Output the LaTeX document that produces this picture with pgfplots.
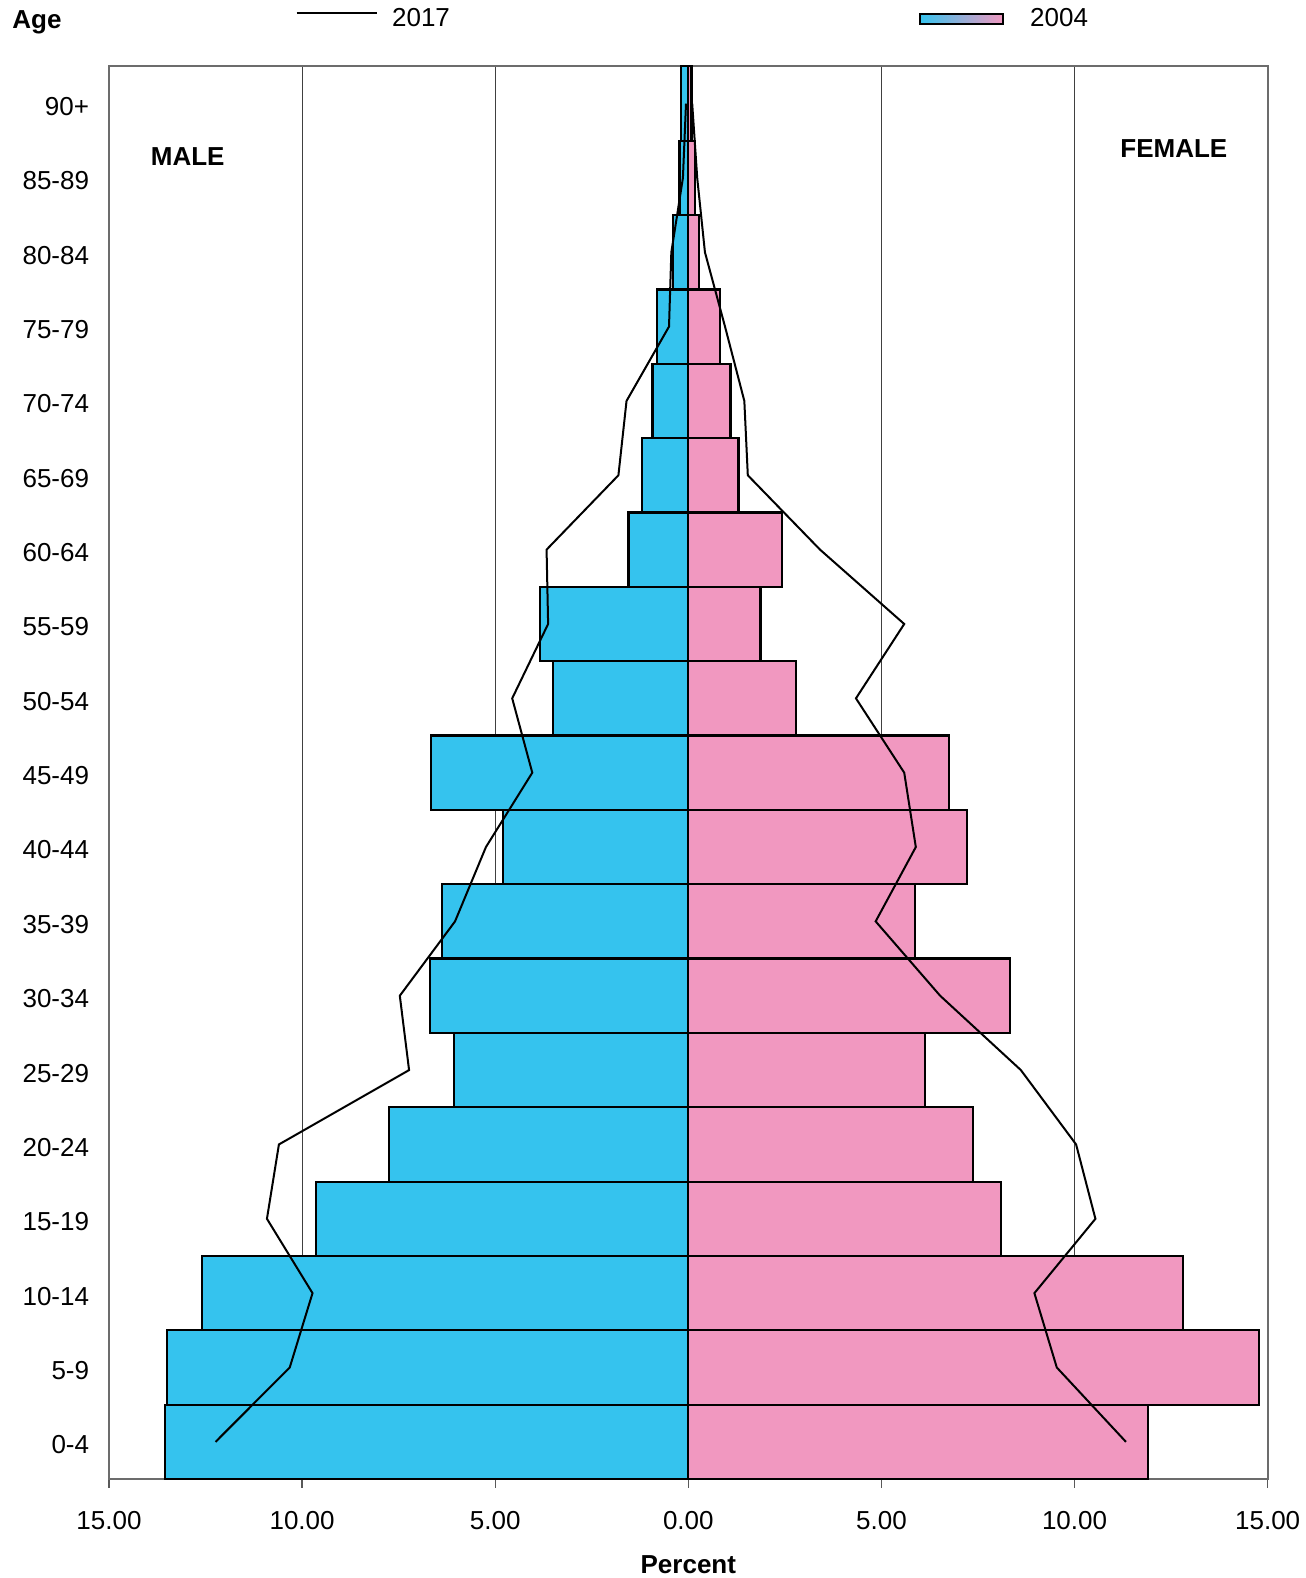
\documentclass[border=0pt]{standalone}
\usepackage{pgfplots}
\pgfplotsset{compat=1.18}
\usepackage{pgfplotstable}
\usepackage{fontspec}
\setmainfont{Liberation Sans}
\definecolor{maleblue}{RGB}{53,195,238}
\definecolor{femalepink}{RGB}{241,152,192}

% age group index, 2004 male/female bars, 2017 male/female lines (percent)
\pgfplotstableread{
age m04   f04   m17   f17
0   13.54 11.90 12.24 11.33
1   13.49 14.77 10.32 9.54
2   12.59 12.80 9.73  8.96
3   9.65  8.10  10.91 10.54
4   7.75  7.37  10.60 10.04
5   6.06  6.12  7.23  8.61
6   6.69  8.33  7.47  6.52
7   6.37  5.86  6.04  4.85
8   4.79  7.21  5.24  5.89
9   6.67  6.75  4.04  5.59
10  3.50  2.78  4.56  4.34
11  3.84  1.87  3.63  5.59
12  1.55  2.42  3.67  3.41
13  1.19  1.30  1.81  1.54
14  0.93  1.09  1.60  1.45
15  0.82  0.82  0.50  0.95
16  0.39  0.28  0.44  0.43
17  0.23  0.18  0.14  0.23
18  0.18  0.08  0.06  0.10
}\pyr

\newcommand\basefont{\fontsize{13}{15.6}\selectfont}

\begin{document}
\begin{tikzpicture}[font=\basefont]
\path[use as bounding box] (-54.5pt,-49.5pt) rectangle (598.5pt,739.7pt);
\begin{axis}[
  at={(0pt,0pt)}, anchor=south west,
  width=579.5pt, height=706.5pt, scale only axis,
  clip=false,
  xmin=-15, xmax=15, ymin=-0.5, ymax=18.5,
  xtick={-15,-10,-5,0,5,10,15},
  xticklabels={15.00,10.00,5.00,0.00,5.00,10.00,15.00},
  ytick={0,...,18},
  yticklabels={0-4,5-9,10-14,15-19,20-24,25-29,30-34,35-39,40-44,45-49,50-54,55-59,60-64,65-69,70-74,75-79,80-84,85-89,90+},
  xtick pos=left,
  tick align=center,
  major tick length=8.5pt,
  xtick style={gray!70!black, line width=0.6pt},
  ytick style={draw=none},
  xmajorgrids=true,
  grid style={gray!50!black, line width=0.4pt},
  axis line style={gray!85!black, line width=1pt},
  /pgf/number format/assume math mode=true,
  xticklabel style={inner sep=0pt, anchor=north, yshift=-11.5pt},
  yticklabel style={inner sep=0pt, anchor=east, xshift=-5.5pt, yshift=-1.5pt},
  xlabel={Percent},
  xlabel style={font=\basefont\bfseries, at={(axis description cs:0.5,0)}, anchor=center, yshift=-43pt},
  legend columns=2,
  legend style={draw=none, fill=none, inner sep=0pt,
    at={(axis description cs:0,1)}, anchor=west, xshift=93.2pt, yshift=23.5pt,
    /tikz/every even column/.append style={column sep=232.5pt}},
]
\addplot[xbar, bar width=1, bar shift=0pt, fill=maleblue, draw=black, line width=1.1pt, forget plot]
  table[x expr=-\thisrow{m04}, y=age] {\pyr};
\addplot[xbar, bar width=1, bar shift=0pt, fill=femalepink, draw=black, line width=1.1pt, forget plot]
  table[x=f04, y=age] {\pyr};
\addplot[black, line width=1pt, forget plot] table[x expr=-\thisrow{m17}, y=age] {\pyr};
\addplot[black, line width=1pt, forget plot] table[x=f17, y=age] {\pyr};

\addlegendimage{legend image code/.code={\draw[black, line width=1pt] (0pt,3pt) -- (40pt,3pt); \path (45.5pt,0pt);}}
\addlegendentry{2017}
\addlegendimage{legend image code/.code={\draw[black, line width=1pt, left color=maleblue, right color=femalepink] (0pt,-2.5pt) rectangle (41.5pt,2.5pt); \path (53pt,0pt);}}
\addlegendentry{2004}

\node[font=\basefont\bfseries] at (axis cs:-12.96,17.29) {MALE};
\node[font=\basefont\bfseries] at (axis cs:12.57,17.39) {FEMALE};
\node[font=\basefont\bfseries, xshift=-36pt, yshift=22pt] at (rel axis cs:0,1) {Age};
\end{axis}
\end{tikzpicture}
\end{document}
